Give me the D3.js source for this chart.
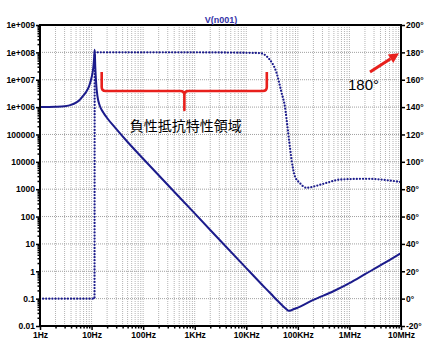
<!DOCTYPE html>
<html><head><meta charset="utf-8">
<script src="https://cdn.jsdelivr.net/npm/d3@7"></script>
<style>
body{margin:0;background:#fff;}
svg{display:block;}
.ax text{font-family:"Liberation Sans",Arial,sans-serif;font-size:8.5px;font-weight:bold;fill:#000;}
</style></head>
<body>
<svg id="c" width="435" height="356"></svg>
<script>
// ---- data ----
const xTickValues = [1, 10, 100, 1e3, 1e4, 1e5, 1e6, 1e7];
const xTickLabels = ["1Hz","10Hz","100Hz","1KHz","10KHz","100KHz","1MHz","10MHz"];
const yTickValues = [0.01, 0.1, 1, 10, 100, 1000, 1e4, 1e5, 1e6, 1e7, 1e8, 1e9];
const yTickLabels = ["0.01","0.1","1","10","100","1000","10000","100000","1e+006","1e+007","1e+008","1e+009"];
const phaseTickValues = [-20, 0, 20, 40, 60, 80, 100, 120, 140, 160, 180, 200];
const phaseTickLabels = ["-20°","0°","20°","40°","60°","80°","100°","120°","140°","160°","180°","200°"];

const magFreq = [1,2,3,4,5,6,7,8,9,10,10.8,11.2,11.5,11.8,12.3,13,14.5,17,20,30,50,100,1000,10000,20000,30000,40000,50000,60000,66000,73000,80000,100000,200000,500000,1e6,2e6,5e6,1e7];
const magValue = [1.0e6,1.03e6,1.08e6,1.2e6,1.45e6,1.9e6,2.7e6,3.8e6,6e6,1.2e7,2.8e7,6e7,1.25e8,3e7,7e6,2.5e6,1.1e6,6.2e5,4.0e5,1.6e5,5.3e4,1.3e4,130,1.3,0.33,0.15,0.085,0.056,0.041,0.036,0.037,0.04,0.047,0.09,0.19,0.37,0.78,2.1,4.6];

const phaseFreq = [1,11.4,11.5,1000,18000,28700,38600,48300,56000,65000,70000,75500,87500,109000,147000,230000,390000,650000,2.1e6,1e7];
const phaseDeg  = [0,0,180,180,179.5,174.5,165,150.5,140.5,121,111,101.5,89.5,84.5,81,82.5,85,87,87.6,85.2];

const title = "V(n001)";
const annotation = "負性抵抗特性領域";
const arrowLabel = "180°";

// ---- layout ----
const L = 40, R = 401, T = 25, B = 326;
const svg = d3.select("#c");
const x = d3.scaleLog().domain([1, 1e7]).range([L, R]);
const y = d3.scaleLog().domain([0.01, 1e9]).range([B, T]);
const yp = d3.scaleLinear().domain([-20, 200]).range([B, T]);

const minorX = [];
for (let d = 1; d < 1e7; d *= 10) for (let k = 1; k <= 9; k++) minorX.push(d * k);
minorX.push(1e7);
const minorY = [];
for (let d = 0.01; d < 1e9; d *= 10) for (let k = 2; k <= 9; k++) minorY.push(d * k);

// grid
const g = svg.append("g");
g.selectAll(".vg").data(minorX).join("line")
  .attr("x1", d => x(d)).attr("x2", d => x(d)).attr("y1", T).attr("y2", B)
  .attr("stroke", "#b4b4b4").attr("stroke-width", 1).attr("stroke-dasharray", "1,1");
g.selectAll(".hg").data(yTickValues).join("line")
  .attr("x1", L).attr("x2", R).attr("y1", d => y(d)).attr("y2", d => y(d))
  .attr("stroke", "#a0a0a0").attr("stroke-width", 1).attr("stroke-dasharray", "1,1");

// curves
const col = "#1c1c8c";
const magLine = d3.line().x(d => x(d[0])).y(d => y(d[1])).curve(d3.curveMonotoneX);
svg.append("path").datum(magFreq.map((f, i) => [f, magValue[i]]))
  .attr("d", magLine).attr("fill", "none").attr("stroke", col).attr("stroke-width", 2);

const phLine = d3.line().x(d => x(d[0])).y(d => yp(d[1])).curve(d3.curveMonotoneX);
svg.append("path").datum(phaseFreq.map((f, i) => [f, phaseDeg[i]]))
  .attr("d", phLine).attr("fill", "none").attr("stroke", col).attr("stroke-width", 2.3)
  .attr("stroke-linecap", "round").attr("stroke-dasharray", "0,3.1");

// frame
svg.append("rect").attr("x", L).attr("y", T).attr("width", R - L).attr("height", B - T)
  .attr("fill", "none").attr("stroke", "#000").attr("stroke-width", 2);

// axes
function style(sel) {
  sel.attr("class", "ax");
  sel.select(".domain").remove();
  sel.selectAll(".tick line").attr("stroke", "#000").attr("stroke-width", 1.5);
}
svg.append("g").attr("transform", `translate(${L},0)`)
  .call(d3.axisLeft(y).tickValues(yTickValues).tickSize(4).tickPadding(1)
    .tickFormat((d, i) => yTickLabels[i])).call(style);
svg.append("g").attr("transform", `translate(${L},0)`)
  .call(d3.axisLeft(y).tickValues(minorY).tickSize(2.5).tickFormat("")).call(style);
svg.append("g").attr("transform", `translate(0,${B})`)
  .call(d3.axisBottom(x).tickValues(xTickValues).tickSize(4).tickPadding(2)
    .tickFormat((d, i) => xTickLabels[i])).call(style);
svg.append("g").attr("transform", `translate(0,${B})`)
  .call(d3.axisBottom(x).tickValues(minorX.filter(d => !xTickValues.includes(d))).tickSize(2.5).tickFormat("")).call(style);
svg.append("g").attr("transform", `translate(${R},0)`)
  .call(d3.axisRight(yp).tickValues(phaseTickValues).tickSize(4).tickPadding(1)
    .tickFormat((d, i) => phaseTickLabels[i])).call(style);

// title
svg.append("text").attr("x", 221).attr("y", 23).attr("text-anchor", "middle")
  .attr("font-family", "Liberation Sans, Arial, sans-serif").attr("font-size", 9)
  .attr("font-weight", "bold").attr("fill", "#3535a8").text(title);

// red brace annotation
const red = "#e8201c";
const bx0 = x(11.5) + 7, bx1 = x(25000), bc = x(630), by = 91, btop = 72, bdip = 110;
svg.append("path")
  .attr("d", `M${bx0},${btop} L${bx0},${by - 4} Q${bx0},${by} ${bx0 + 4},${by} L${bc - 4},${by} Q${bc},${by} ${bc},${by + 4} L${bc},${bdip} L${bc},${by + 4} Q${bc},${by} ${bc + 4},${by} L${bx1 - 4},${by} Q${bx1},${by} ${bx1},${by - 4} L${bx1},${btop}`)
  .attr("fill", "none").attr("stroke", red).attr("stroke-width", 2.6).attr("stroke-linejoin", "round");
svg.append("text").attr("x", bc + 1.5).attr("y", 131).attr("text-anchor", "middle")
  .attr("font-family", "Noto Sans CJK JP, sans-serif").attr("font-size", 14).attr("fill", "#000")
  .text(annotation);

// red arrow to 180°
const ax0 = 370, ay0 = 72, ax1 = 399, ay1 = yp(180) + 1;
const ang = Math.atan2(ay1 - ay0, ax1 - ax0);
const hl = 10, hw = 5;
const hx = ax1 - hl * Math.cos(ang), hy = ay1 - hl * Math.sin(ang);
svg.append("line").attr("x1", ax0).attr("y1", ay0).attr("x2", hx).attr("y2", hy)
  .attr("stroke", red).attr("stroke-width", 3);
svg.append("path").attr("d",
  `M${ax1},${ay1} L${hx + hw * Math.sin(ang)},${hy - hw * Math.cos(ang)} L${hx - hw * Math.sin(ang)},${hy + hw * Math.cos(ang)} Z`)
  .attr("fill", red);
svg.append("text").attr("x", 348).attr("y", 90).attr("font-family", "Liberation Sans, Arial, sans-serif")
  .attr("font-size", 15).attr("fill", "#000").text(arrowLabel);
</script>
</body></html>
